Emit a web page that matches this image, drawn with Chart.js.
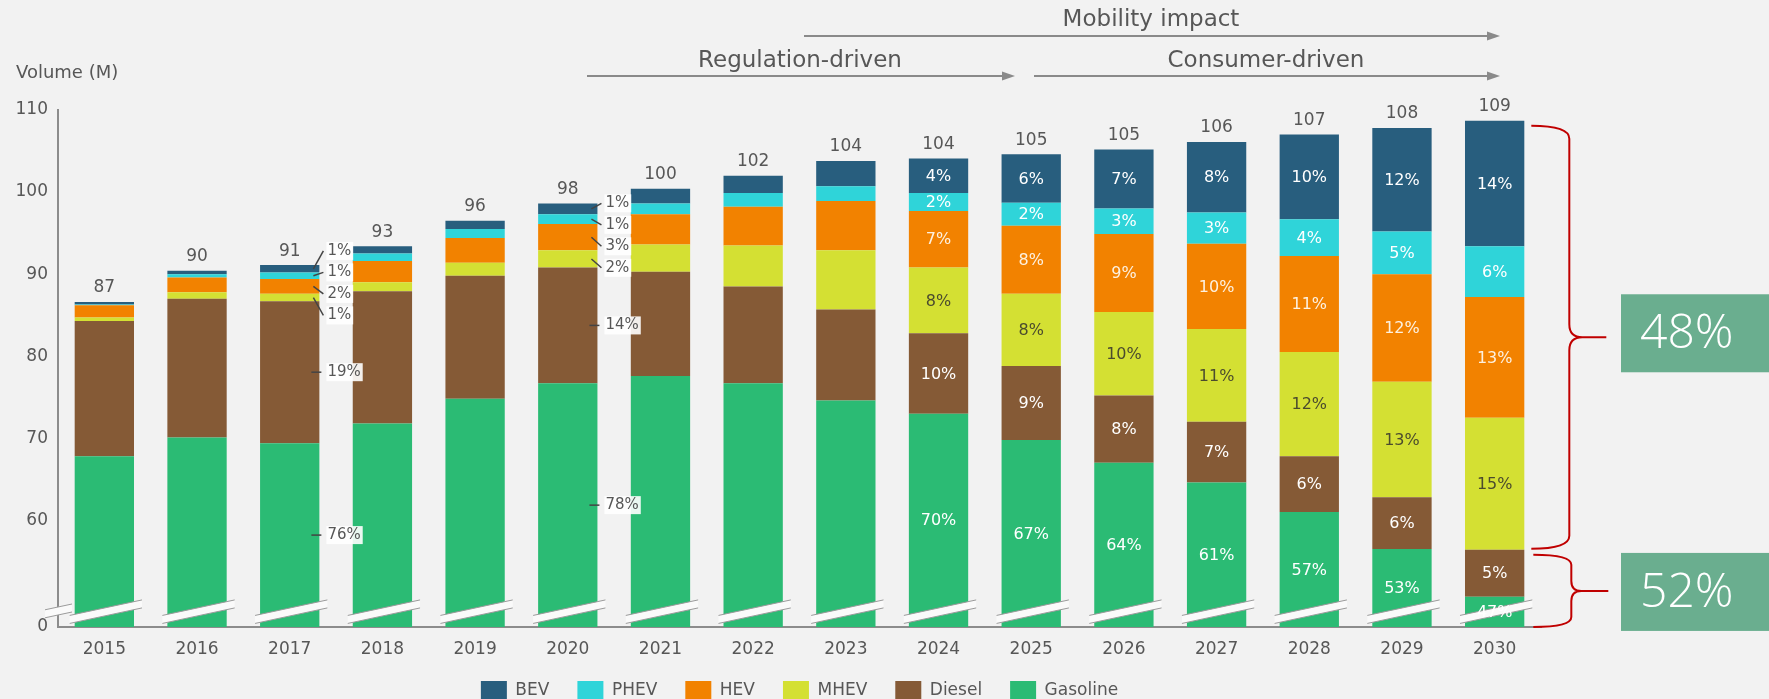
<!DOCTYPE html>
<html>
<head>
<meta charset="utf-8">
<script src="https://cdn.jsdelivr.net/npm/chart.js@4"></script>
<style>
  html, body { margin: 0; padding: 0; background: #f2f2f2; }
  #wrap { width: 1769px; height: 699px; }
</style>
</head>
<body>
<div id="wrap"><canvas id="myChart" width="1769" height="699"></canvas></div>
<script>
// data (volume in millions)
const years = ['2015', '2016', '2017', '2018', '2019', '2020', '2021', '2022',
               '2023', '2024', '2025', '2026', '2027', '2028', '2029', '2030'];
const totals = [87, 90, 91, 93, 96, 98, 100, 102, 104, 104, 105, 105, 106, 107, 108, 109];

const gasoline = [67.8, 70.1, 69.4, 71.8, 74.8, 76.7, 77.6, 76.7, 74.6, 73.0, 69.8, 67.0, 64.6, 61.0, 56.5, 50.7];
const diesel   = [16.5, 16.9, 17.3, 16.1, 15.0, 14.1, 12.7, 11.8, 11.1, 9.8, 9.0, 8.2, 7.4, 6.8, 6.3, 5.7];
const mhev     = [0.4, 0.8, 0.9, 1.1, 1.6, 2.1, 3.3, 5.0, 7.2, 8.0, 8.8, 10.2, 11.3, 12.7, 14.1, 16.1];
const hev      = [1.5, 1.8, 1.8, 2.6, 3.0, 3.2, 3.7, 4.7, 6.0, 6.9, 8.3, 9.5, 10.4, 11.7, 13.1, 14.7];
const phev     = [0.1, 0.4, 0.8, 0.9, 1.1, 1.2, 1.3, 1.7, 1.8, 2.2, 2.8, 3.1, 3.8, 4.5, 5.2, 6.2];
const bev      = [0.3, 0.4, 0.9, 0.9, 1.0, 1.3, 1.8, 2.1, 3.1, 4.2, 5.9, 7.2, 8.6, 10.3, 12.6, 15.3];

// share labels shown in the chart
const N = null;
const gasolinePct = [N, N, '76%', N, N, '78%', N, N, N, '70%', '67%', '64%', '61%', '57%', '53%', '47%'];
const dieselPct   = [N, N, '19%', N, N, '14%', N, N, N, '10%', '9%', '8%', '7%', '6%', '6%', '5%'];
const mhevPct     = [N, N, '1%', N, N, '2%', N, N, N, '8%', '8%', '10%', '11%', '12%', '13%', '15%'];
const hevPct      = [N, N, '2%', N, N, '3%', N, N, N, '7%', '8%', '9%', '10%', '11%', '12%', '13%'];
const phevPct     = [N, N, '1%', N, N, '1%', N, N, N, '2%', '2%', '3%', '3%', '4%', '5%', '6%'];
const bevPct      = [N, N, '1%', N, N, '1%', N, N, N, '4%', '6%', '7%', '8%', '10%', '12%', '14%'];
const calloutYears = ['2017', '2020'];

// broken y axis: bottom of the plot stands for 0
const yTickValues = [47, 60, 70, 80, 90, 100, 110];
const yTickLabels = ['0', '60', '70', '80', '90', '100', '110'];

const shareBoxes = ['48%', '52%'];

const FONT = "'DejaVu Sans', sans-serif";
const GREY = '#575757';

function drawBreak(ctx, xl, xr, xm, yc) {
  const s = -15 / 70, t = 8;
  const yl = yc + s * (xl - xm), yr = yc + s * (xr - xm);
  ctx.beginPath();
  ctx.moveTo(xl, yl - t / 2); ctx.lineTo(xr, yr - t / 2);
  ctx.lineTo(xr, yr + t / 2); ctx.lineTo(xl, yl + t / 2);
  ctx.closePath();
  ctx.fillStyle = '#fafafa';
  ctx.fill();
  ctx.strokeStyle = '#9a9a9a';
  ctx.lineWidth = 1;
  ctx.beginPath();
  ctx.moveTo(xl, yl - t / 2); ctx.lineTo(xr, yr - t / 2);
  ctx.moveTo(xl, yl + t / 2); ctx.lineTo(xr, yr + t / 2);
  ctx.stroke();
}

function arrow(ctx, x0, x1, y) {
  ctx.strokeStyle = '#8a8a8a';
  ctx.fillStyle = '#8a8a8a';
  ctx.lineWidth = 2;
  ctx.beginPath();
  ctx.moveTo(x0, y); ctx.lineTo(x1 - 10, y);
  ctx.stroke();
  ctx.beginPath();
  ctx.moveTo(x1, y); ctx.lineTo(x1 - 13, y - 4.5); ctx.lineTo(x1 - 13, y + 4.5);
  ctx.closePath();
  ctx.fill();
}

function brace(ctx, x0, top, bottom, xv, xt, r) {
  const mid = (top + bottom) / 2;
  ctx.beginPath();
  ctx.moveTo(x0, top);
  ctx.quadraticCurveTo(xv, top, xv, top + r);
  ctx.lineTo(xv, mid - r);
  ctx.quadraticCurveTo(xv, mid, xv + r, mid);
  ctx.lineTo(xt, mid);
  ctx.moveTo(xv + r, mid);
  ctx.quadraticCurveTo(xv, mid, xv, mid + r);
  ctx.lineTo(xv, bottom - r);
  ctx.quadraticCurveTo(xv, bottom, x0, bottom);
  ctx.stroke();
  return mid;
}

function labelBox(ctx, text, x, y) {
  const w = ctx.measureText(text).width;
  ctx.fillStyle = 'rgba(255,255,255,0.9)';
  ctx.fillRect(x - 1, y - 9, w + 3, 18);
  ctx.fillStyle = GREY;
  ctx.fillText(text, x, y);
}

const overlay = {
  id: 'overlay',
  // pull the legend up under the year labels
  afterLayout(chart) {
    const lg = chart.legend;
    const h = lg.height;
    lg.top = 653;
    lg.bottom = lg.top + h;
  },
  afterDatasetsDraw(chart) {
    const { ctx, chartArea } = chart;
    const metas = chart.data.datasets.map((d, i) => chart.getDatasetMeta(i));
    ctx.save();

    // axis breaks
    metas[0].data.forEach(bar => {
      drawBreak(ctx, bar.x - bar.width / 2 - 5, bar.x + bar.width / 2 + 8, bar.x, 612);
    });
    drawBreak(ctx, 45, 72, chartArea.left, 611);

    // totals above the bars
    ctx.font = '17px ' + FONT;
    ctx.fillStyle = GREY;
    ctx.textAlign = 'center';
    ctx.textBaseline = 'middle';
    metas[5].data.forEach((bar, j) => {
      ctx.fillText(String(totals[j]), bar.x, bar.y - 14);
    });

    // shares inside the bars
    ctx.font = '16px ' + FONT;
    years.forEach((yr, j) => {
      if (calloutYears.includes(yr)) return;
      chart.data.datasets.forEach((ds, i) => {
        const txt = ds.pct[j];
        if (!txt) return;
        const bar = metas[i].data[j];
        const mid = (bar.y + Math.min(bar.base, chartArea.bottom)) / 2;
        ctx.fillStyle = ds.labelColor;
        ctx.fillText(txt, bar.x, mid + 1);
      });
    });

    // callout shares for 2017 and 2020
    ctx.font = '15px ' + FONT;
    ctx.textAlign = 'left';
    ctx.strokeStyle = '#444';
    ctx.lineWidth = 1.5;
    calloutYears.forEach(yr => {
      const j = years.indexOf(yr);
      const ref = metas[0].data[j];
      const right = ref.x + ref.width / 2;
      const top = metas[5].data[j].y, bottom = metas[2].data[j].base;
      const c = (top + bottom) / 2;
      [5, 4, 3, 2].forEach((i, k) => {
        const seg = metas[i].data[j];
        const sm = (seg.y + seg.base) / 2;
        const ly = c + (k - 1.5) * 21.5;
        ctx.beginPath();
        ctx.moveTo(right - 6, sm); ctx.lineTo(right + 4, ly);
        ctx.stroke();
        labelBox(ctx, chart.data.datasets[i].pct[j], right + 8, ly);
      });
      [1, 0].forEach(i => {
        const seg = metas[i].data[j];
        const mid = (seg.y + Math.min(seg.base, chartArea.bottom)) / 2;
        ctx.beginPath();
        ctx.moveTo(right - 8, mid); ctx.lineTo(right + 2, mid);
        ctx.stroke();
        labelBox(ctx, chart.data.datasets[i].pct[j], right + 8, mid);
      });
    });

    // y axis title
    ctx.font = '18px ' + FONT;
    ctx.fillStyle = GREY;
    ctx.fillText('Volume (M)', 16, 73);

    // phase arrows
    ctx.font = '23px ' + FONT;
    ctx.textAlign = 'center';
    ctx.fillStyle = GREY;
    ctx.fillText('Mobility impact', 1151, 20);
    ctx.fillText('Regulation-driven', 800, 61);
    ctx.fillText('Consumer-driven', 1266, 61);
    arrow(ctx, 804, 1500, 36);
    arrow(ctx, 587, 1015, 76);
    arrow(ctx, 1034, 1500, 76);

    // braces and share boxes for 2030
    const last = years.length - 1;
    const b30 = metas[5].data[last];
    const x0 = b30.x + b30.width / 2 + 7;
    const dieselTop = metas[1].data[last].y;
    ctx.strokeStyle = '#c00000';
    ctx.lineWidth = 2;
    const m1 = brace(ctx, x0, b30.y + 5, dieselTop - 1, x0 + 38, x0 + 75, 13);
    const m2 = brace(ctx, x0 + 2, dieselTop + 5, chartArea.bottom, x0 + 40, x0 + 77, 10);
    ctx.fillStyle = '#6aae8f';
    ctx.fillRect(1621, m1 - 43, 148, 78);
    ctx.fillRect(1621, m2 - 38, 148, 78);
    ctx.font = '300 48px "Open Sans", sans-serif';
    ctx.fillStyle = '#ffffff';
    ctx.textAlign = 'left';
    ctx.fillText(shareBoxes[0], 1640, m1 - 3);
    ctx.fillText(shareBoxes[1], 1640, m2 + 2);

    ctx.restore();
  }
};

const ctx = document.getElementById('myChart').getContext('2d');
const chart = new Chart(ctx, {
  type: 'bar',
  data: {
    labels: years,
    datasets: [
      { label: 'Gasoline', data: gasoline, pct: gasolinePct, backgroundColor: '#2bbb74', labelColor: '#ffffff' },
      { label: 'Diesel', data: diesel, pct: dieselPct, backgroundColor: '#855a36', labelColor: '#ffffff' },
      { label: 'MHEV', data: mhev, pct: mhevPct, backgroundColor: '#d4e033', labelColor: '#4b4b2e' },
      { label: 'HEV', data: hev, pct: hevPct, backgroundColor: '#f28200', labelColor: '#fdf1e0' },
      { label: 'PHEV', data: phev, pct: phevPct, backgroundColor: '#2fd4d9', labelColor: '#ffffff' },
      { label: 'BEV', data: bev, pct: bevPct, backgroundColor: '#285e7e', labelColor: '#ffffff' }
    ]
  },
  options: {
    responsive: false,
    animation: false,
    devicePixelRatio: 1,
    categoryPercentage: 1,
    barPercentage: 0.64,
    layout: { padding: { top: 110, right: 228, left: 0, bottom: -30 } },
    plugins: {
      legend: {
        position: 'bottom',
        fullSize: false,
        reverse: true,
        labels: {
          boxWidth: 26, boxHeight: 19, padding: 28,
          color: GREY, font: { family: FONT, size: 17 }
        }
      },
      tooltip: { enabled: false }
    },
    scales: {
      x: {
        stacked: true,
        grid: { display: false, drawTicks: false },
        border: { color: '#8c8c8c', width: 2 },
        ticks: { color: GREY, font: { family: FONT, size: 17 }, padding: 12 },
        afterFit: s => { s.height = 45; }
      },
      y: {
        stacked: true,
        min: 47,
        max: 110,
        grid: { display: false, drawTicks: false },
        border: { color: '#8c8c8c', width: 2 },
        afterBuildTicks: s => { s.ticks = yTickValues.map(v => ({ value: v })); },
        ticks: {
          color: GREY, font: { family: FONT, size: 17 }, padding: 10,
          callback: v => yTickLabels[yTickValues.indexOf(v)]
        },
        afterFit: s => { s.width = 58; }
      }
    }
  },
  plugins: [overlay]
});
</script>
</body>
</html>
